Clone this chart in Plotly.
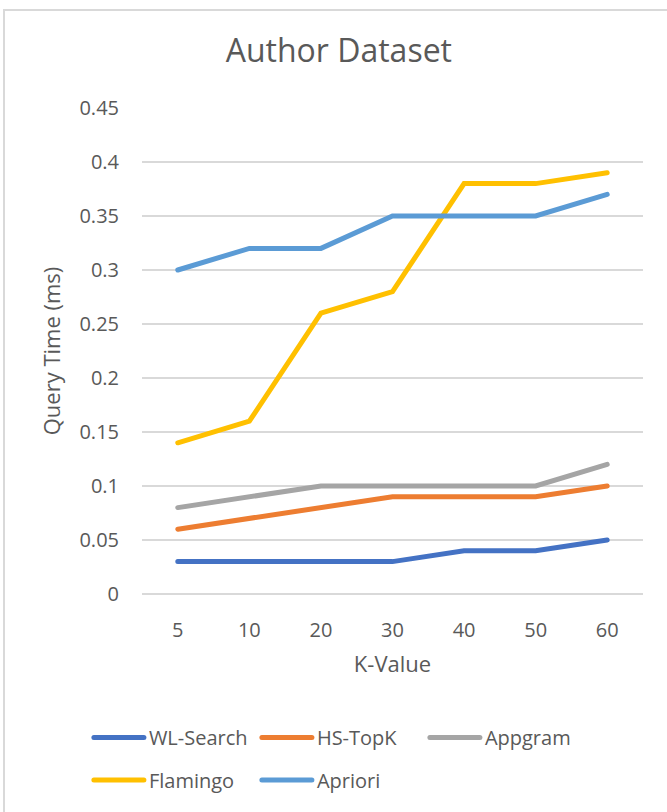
import plotly.graph_objects as go

# Query time (ms) per K value on the Author dataset
k_values = ["5", "10", "20", "30", "40", "50", "60"]
wl_search = [0.03, 0.03, 0.03, 0.03, 0.04, 0.04, 0.05]
hs_topk = [0.06, 0.07, 0.08, 0.09, 0.09, 0.09, 0.10]
appgram = [0.08, 0.09, 0.10, 0.10, 0.10, 0.10, 0.12]
flamingo = [0.14, 0.16, 0.26, 0.28, 0.38, 0.38, 0.39]
apriori = [0.30, 0.32, 0.32, 0.35, 0.35, 0.35, 0.37]

series = [
    ("WL-Search", wl_search, "#4472C4", "legend"),
    ("HS-TopK", hs_topk, "#ED7D31", "legend"),
    ("Appgram", appgram, "#A5A5A5", "legend"),
    ("Flamingo", flamingo, "#FFC000", "legend2"),
    ("Apriori", apriori, "#5B9BD5", "legend2"),
]

FONT = "Open Sans"
TEXT = "#595959"
GRID = "#D9D9D9"

fig = go.Figure()
for name, vals, color, leg in series:
    fig.add_trace(go.Scatter(
        x=k_values, y=vals, name=name, mode="lines",
        line=dict(color=color, width=5),
        legend=leg,
    ))

legend_common = dict(
    orientation="h",
    font=dict(family=FONT, size=20, color=TEXT),
    entrywidth=103, entrywidthmode="pixels",
    itemwidth=50,
    bgcolor="rgba(0,0,0,0)",
    xanchor="left", yanchor="middle",
    traceorder="normal",
)

fig.update_layout(
    width=667, height=812,
    margin=dict(l=142, r=24, t=108, b=213),
    paper_bgcolor="white", plot_bgcolor="white",
    font=dict(family=FONT, color=TEXT),
    title=dict(text="Author Dataset", x=0.508, xanchor="center",
               y=1 - 51 / 812, yanchor="middle",
               font=dict(family=FONT, size=32, color=TEXT)),
    xaxis=dict(
        type="category", range=[-0.5, 6.5],
        showgrid=False, zeroline=False, showline=False,
        ticks="", tickfont=dict(size=20, color=TEXT), ticklabelstandoff=22,
        title=dict(text="K-Value", font=dict(size=22, color=TEXT), standoff=14),
    ),
    yaxis=dict(
        range=[0, 0.45], dtick=0.05, tick0=0,
        showgrid=True, gridcolor=GRID, gridwidth=1.5,
        zeroline=True, zerolinecolor=GRID, zerolinewidth=1.5,
        showline=False, ticks="", tickfont=dict(size=20, color=TEXT),
        ticklabelstandoff=22,
        title=dict(text="Query Time (ms)", font=dict(size=22, color=TEXT), standoff=12),
    ),
    legend=dict(legend_common, x=-0.106, y=1 - (744 - 108) / 491),
    legend2=dict(legend_common, x=-0.106, y=1 - (787 - 108) / 491),
    shapes=[dict(type="rect", xref="paper", yref="paper",
                 x0=-138 / 501, x1=1.2, y0=-0.6, y1=1 + 99 / 491,
                 line=dict(color="#D9D9D9", width=2), fillcolor="rgba(0,0,0,0)",
                 layer="below")],
)

fig.write_html("out.html", post_script=(
    "document.querySelectorAll('.scatterlayer path.js-line, .legendlines path')"
    ".forEach(function(p){p.style.strokeLinecap='round';});"
))
